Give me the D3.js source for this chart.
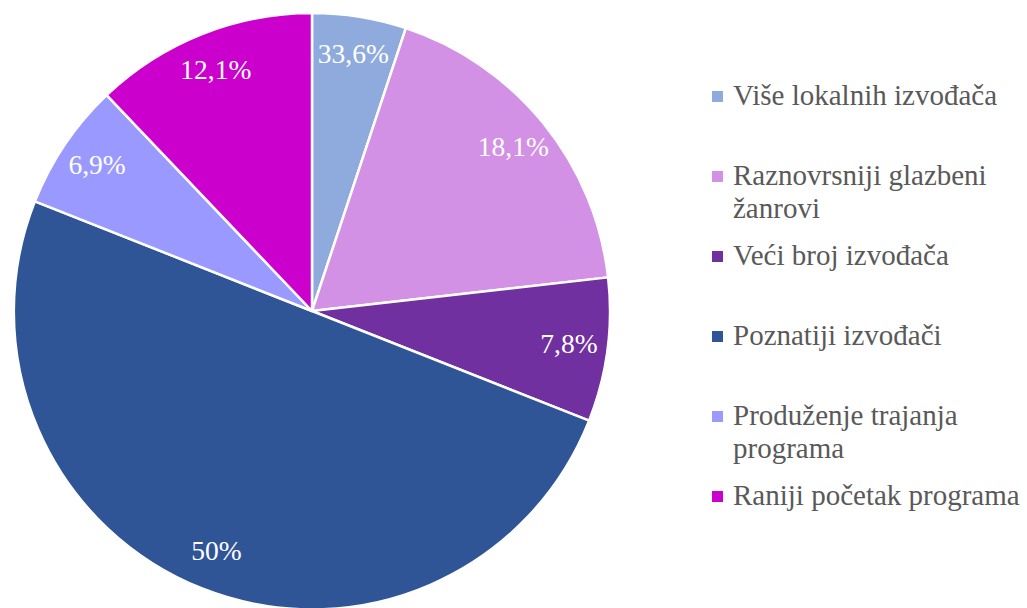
<!DOCTYPE html>
<html>
<head>
<meta charset="utf-8">
<script src="https://cdn.jsdelivr.net/npm/d3@7"></script>
<style>
  body { margin: 0; background: #fff; }
</style>
</head>
<body>
<div id="chart"></div>
<script>
// Data (slice shares, labels shown as printed)
var categories = ["Više lokalnih izvođača", "Raznovrsniji glazbeni žanrovi", "Veći broj izvođača",
                  "Poznatiji izvođači", "Produženje trajanja programa", "Raniji početak programa"];
var values = [5.1, 18.1, 7.8, 50, 6.9, 12.1];
var valueLabels = ["33,6%", "18,1%", "7,8%", "50%", "6,9%", "12,1%"];
var colors = ["#8FAADC", "#D291E4", "#7030A0", "#2F5597", "#9999FF", "#CC00CC"];

// legend text split the way it wraps in the picture
var legendLines = [["Više lokalnih izvođača"], ["Raznovrsniji glazbeni", "žanrovi"], ["Veći broj izvođača"],
                   ["Poznatiji izvođači"], ["Produženje trajanja", "programa"], ["Raniji početak programa"]];

var FONT = '"Liberation Serif", "Times New Roman", serif';
var width = 1027, height = 608;
var cx = 312, cy = 311, radius = 298;

var svg = d3.select('#chart').append('svg')
    .attr('width', width)
    .attr('height', height)
    .style('display', 'block');

var pie = d3.pie().sort(null).value(d => d);
var arcs = pie(values);

var arc = d3.arc().innerRadius(0).outerRadius(radius);
var labelArc = d3.arc().innerRadius(radius * 0.87).outerRadius(radius * 0.87);

var pieGroup = svg.append('g')
    .attr('transform', `translate(${cx},${cy})`);

pieGroup.selectAll('path')
    .data(arcs)
    .join('path')
    .attr('d', arc)
    .attr('fill', (d, i) => colors[i])
    .attr('stroke', '#fff')
    .attr('stroke-width', 2.5)
    .attr('stroke-linejoin', 'round');

pieGroup.selectAll('text')
    .data(arcs)
    .join('text')
    .attr('x', d => labelArc.centroid(d)[0])
    .attr('y', d => labelArc.centroid(d)[1])
    .attr('text-anchor', 'middle')
    .attr('dy', '0.3em')
    .attr('fill', '#fff')
    .style('font-family', FONT)
    .style('font-size', '27.5px')
    .text((d, i) => valueLabels[i]);

// Legend: first-line baselines evenly spaced
var legendY = d3.scalePoint()
    .domain(d3.range(categories.length))
    .range([105, 505]);

var legend = svg.append('g').attr('class', 'legend');

var items = legend.selectAll('g')
    .data(categories)
    .join('g')
    .attr('transform', (d, i) => `translate(712,${legendY(i)})`);

items.append('rect')
    .attr('x', 0)
    .attr('y', -14)
    .attr('width', 11)
    .attr('height', 11)
    .attr('fill', (d, i) => colors[i]);

items.append('text')
    .attr('x', 21)
    .attr('y', 0)
    .attr('fill', '#595959')
    .style('font-family', FONT)
    .style('font-size', '29px')
    .selectAll('tspan')
    .data((d, i) => legendLines[i])
    .join('tspan')
    .attr('x', 21)
    .attr('dy', (d, j) => j === 0 ? 0 : 33)
    .text(d => d);
</script>
</body>
</html>
